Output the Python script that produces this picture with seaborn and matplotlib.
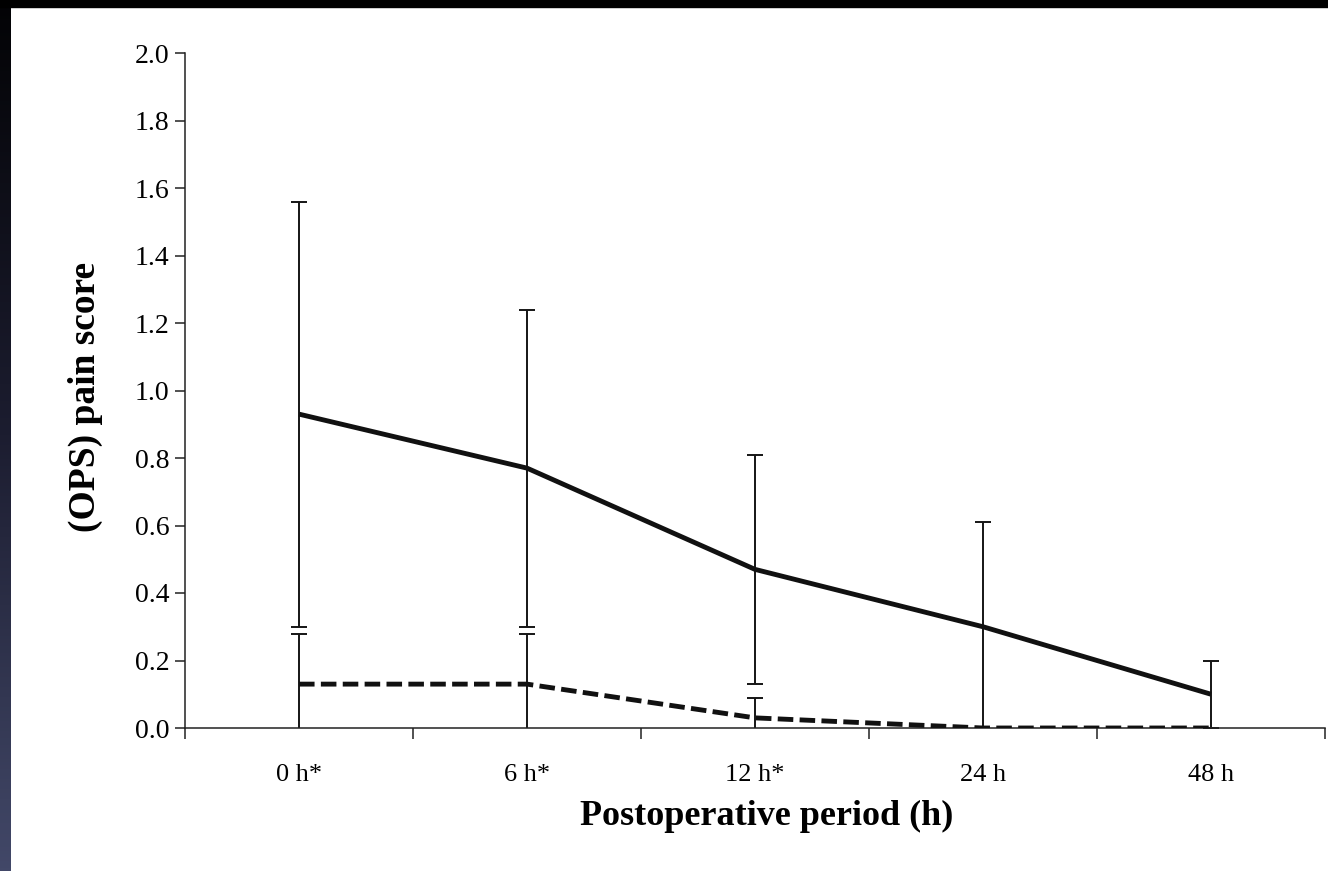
import numpy as np
import pandas as pd
import matplotlib
matplotlib.use("Agg")
import matplotlib.pyplot as plt
from matplotlib.colors import LinearSegmentedColormap
from matplotlib.patches import Rectangle
from matplotlib.ticker import FixedLocator
import seaborn as sns

# values
periods = ["0 h*", "6 h*", "12 h*", "24 h", "48 h"]
group_a_mean = [0.93, 0.77, 0.47, 0.30, 0.10]
group_a_sd = [0.63, 0.47, 0.34, 0.31, 0.10]
group_b_mean = [0.13, 0.13, 0.03, 0.0, 0.0]
group_b_sd = [0.15, 0.15, 0.06, 0.0, 0.0]
y_ticks = [0.0, 0.2, 0.4, 0.6, 0.8, 1.0, 1.2, 1.4, 1.6, 1.8, 2.0]

sns.set_style("ticks")
plt.rcParams["font.family"] = ["Liberation Serif", "DejaVu Serif"]
plt.rcParams["axes.linewidth"] = 1.1
plt.rcParams["text.color"] = "black"
plt.rcParams["xtick.color"] = "black"
plt.rcParams["ytick.color"] = "black"
plt.rcParams["axes.labelcolor"] = "black"

pos = np.arange(len(periods)) + 0.5
df = pd.DataFrame({
    "pos": np.concatenate([pos, pos]),
    "score": group_a_mean + group_b_mean,
    "group": ["A"] * len(periods) + ["B"] * len(periods),
})

fig = plt.figure(figsize=(13.28, 8.71), dpi=100)
ax = fig.add_axes([185 / 1328, 1 - 728 / 871, 1140 / 1328, 675 / 871])

# error bars first so the lines sit on top
ax.errorbar(pos, group_a_mean, yerr=group_a_sd, fmt="none", ecolor="#151515",
            elinewidth=1.4, capsize=5.8, capthick=1.4, zorder=2)
b_has_err = np.array(group_b_sd) > 0
ax.errorbar(pos[b_has_err], np.array(group_b_mean)[b_has_err],
            yerr=np.array(group_b_sd)[b_has_err], fmt="none", ecolor="#151515",
            elinewidth=1.4, capsize=5.8, capthick=1.4, zorder=2)

sns.lineplot(data=df, x="pos", y="score", style="group",
             dashes={"A": "", "B": (3.2, 1.3)}, color="#111111",
             linewidth=3.5, legend=False, ax=ax, zorder=3)
for ln in ax.lines[-2:]:
    ln.set_solid_capstyle("butt")

ax.set_xlim(0, len(periods))
ax.set_ylim(0, 2.0)
ax.set_xticks(pos)
ax.set_xticklabels(periods, fontsize=19)
ax.xaxis.set_minor_locator(FixedLocator(np.arange(len(periods) + 1)))
ax.tick_params(axis="x", which="major", length=0, pad=26)
ax.tick_params(axis="x", which="minor", length=8, width=1.1, color="#222222")
ax.set_yticks(y_ticks)
ax.set_yticklabels([f"{v:.1f}" for v in y_ticks], fontsize=20)
ax.tick_params(axis="y", length=7, width=1.1, color="#222222", pad=4)
sns.despine(ax=ax)
ax.spines["left"].set_color("#222222")
ax.spines["bottom"].set_color("#222222")

ax.set_xlabel("Postoperative period (h)", fontsize=26, fontweight="bold")
ax.xaxis.set_label_coords(0.51, -0.106)
ax.set_ylabel("(OPS) pain score", fontsize=27, fontweight="bold")
ax.yaxis.set_label_coords(-0.072, 0.49)

# dark frame edges of the slide
fig.patches.append(Rectangle((0, 1 - 7 / 871), 1, 7 / 871, transform=fig.transFigure,
                             color="black", zorder=10))
band = fig.add_axes([0, 0, 11 / 1328, 1])
cmap = LinearSegmentedColormap.from_list("band", ["#030305", "#1c1d30", "#424868"])
band.imshow(np.linspace(0, 1, 256).reshape(-1, 1), aspect="auto", cmap=cmap)
band.axis("off")

fig.savefig("out.png", dpi=100)
